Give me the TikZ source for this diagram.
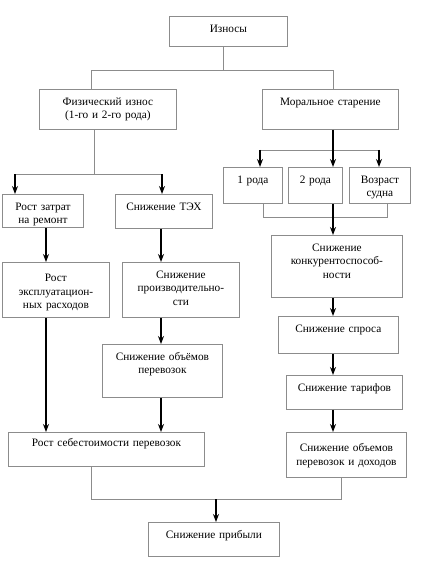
\documentclass[tikz,border=0pt]{standalone}
\usepackage{fontspec}
\setmainfont{Liberation Serif}
\newfontfamily\rmru{Liberation Serif}
\usetikzlibrary{arrows.meta,calc}

\begin{document}
\begin{tikzpicture}[x=1pt,y=-1pt,>={Stealth[length=8pt,width=6pt]}]

    % Styles
    \tikzset{
        blk/.style={draw=black!45, line width=0.8pt, anchor=north west, inner xsep=0pt, inner ysep=0pt,
            align=center, text height=16pt, font=\rmru\fontsize{11.3}{13.5}\selectfont},
        link/.style={draw=black!45, line width=0.8pt},
        arr/.style={->, line width=1.3pt, black}
    }

    \useasboundingbox (0,0) rectangle (420,564);

    % Boxes (top left corner, width, depth below first baseline)
    \node[blk, text width=118pt, text depth=14pt] (iznos) at (169,16) {Износы};
    \node[blk, text width=137pt, text depth=24pt] (fiz) at (39,89) {Физический износ\\(1-го и 2-го рода)};
    \node[blk, text width=136pt, text depth=24pt] (moral) at (262,89) {Моральное старение};
    \node[blk, text width=59pt, text depth=20pt] (rod1) at (223,167) {1 рода};
    \node[blk, text width=54pt, text depth=20pt] (rod2) at (288,167) {2 рода};
    \node[blk, text width=61pt, text depth=20pt] (vozr) at (349,167) {Возраст\\судна};
    \node[blk, text width=81pt, text depth=17pt] (remont) at (2,194) {Рост затрат\\на ремонт};
    \node[blk, text width=97pt, text depth=18pt] (teh) at (115,194) {Снижение ТЭХ};
    \node[blk, text width=107pt, text height=19.5pt, text depth=35.5pt] (ekspl) at (2,262) {Рост\\эксплуатацион-\\ных расходов};
    \node[blk, text width=117pt, text depth=39pt] (proizv) at (122,262) {Снижение\\производительно-\\сти};
    \node[blk, text width=120pt, text depth=37pt] (obiem) at (102,344) {Снижение объёмов\\перевозок};
    \node[blk, text width=196pt, text height=14.5pt, text depth=19.5pt] (sebest) at (8,432) {Рост себестоимости перевозок};
    \node[blk, text width=131pt, text depth=46pt] (konk) at (271,235) {Снижение\\конкурентоспособ-\\ности};
    \node[blk, text width=120pt, text depth=21pt] (spros) at (278,316) {Снижение спроса};
    \node[blk, text width=116pt, text depth=18pt] (tarif) at (286,375) {Снижение тарифов};
    \node[blk, text width=120pt, text height=19.5pt, text depth=25.5pt] (dohod) at (286,432) {Снижение объемов\\перевозок и доходов};
    \node[blk, text width=131pt, text depth=18pt] (pribyl) at (148,522) {Снижение прибыли};

    % Junctions
    \coordinate (t0) at (223,70);
    \coordinate (t1) at (91,70);
    \coordinate (t2) at (333,70);
    \coordinate (f0) at (94,174);
    \coordinate (f1) at (15,174);
    \coordinate (f2) at (162,174);
    \coordinate (m0) at (333,150);
    \coordinate (m1) at (260,150);
    \coordinate (m2) at (379,150);
    \coordinate (r1) at (263,217);
    \coordinate (r2) at (387,217);
    \coordinate (l1) at (46,0);
    \coordinate (l2) at (161,0);
    \coordinate (s0) at (216,499);
    \coordinate (s1) at (91,499);
    \coordinate (s2) at (341,499);

    % Top split
    \draw[link] (iznos.south -| t0) -- (t0);
    \draw[link] (fiz.north -| t1) -- (t1) -- (t2) -- (moral.north -| t2);

    % Physical wear
    \draw[link] (fiz.south -| f0) -- (f0);
    \draw[link] (f1) -- (f2);
    \draw[arr] (f1) -- (remont.north -| f1);
    \draw[arr] (f2) -- (teh.north -| f2);
    \draw[arr] (remont.south -| l1) -- (ekspl.north -| l1);
    \draw[arr] (ekspl.south -| l1) -- (sebest.north -| l1);
    \draw[arr] (teh.south -| l2) -- (proizv.north -| l2);
    \draw[arr] (proizv.south -| l2) -- (obiem.north -| l2);
    \draw[arr] (obiem.south -| l2) -- (sebest.north -| l2);

    % Obsolescence
    \draw[link] (m1) -- (m2);
    \draw[arr] (moral.south -| m0) -- (rod2.north -| m0);
    \draw[arr] (m1) -- (rod1.north -| m1);
    \draw[arr] (m2) -- (vozr.north -| m2);
    \draw[link] (rod1.south -| r1) -- (r1) -- (r2) -- (vozr.south -| r2);
    \draw[arr] (rod2.south -| m0) -- (konk.north -| m0);
    \draw[arr] (konk.south -| m0) -- (spros.north -| m0);
    \draw[arr] (spros.south -| m0) -- (tarif.north -| m0);
    \draw[arr] (tarif.south -| m0) -- (dohod.north -| m0);

    % Profit
    \draw[link] (sebest.south -| s1) -- (s1) -- (s2) -- (dohod.south -| s2);
    \draw[arr] (s0) -- (pribyl.north -| s0);

\end{tikzpicture}
\end{document}
